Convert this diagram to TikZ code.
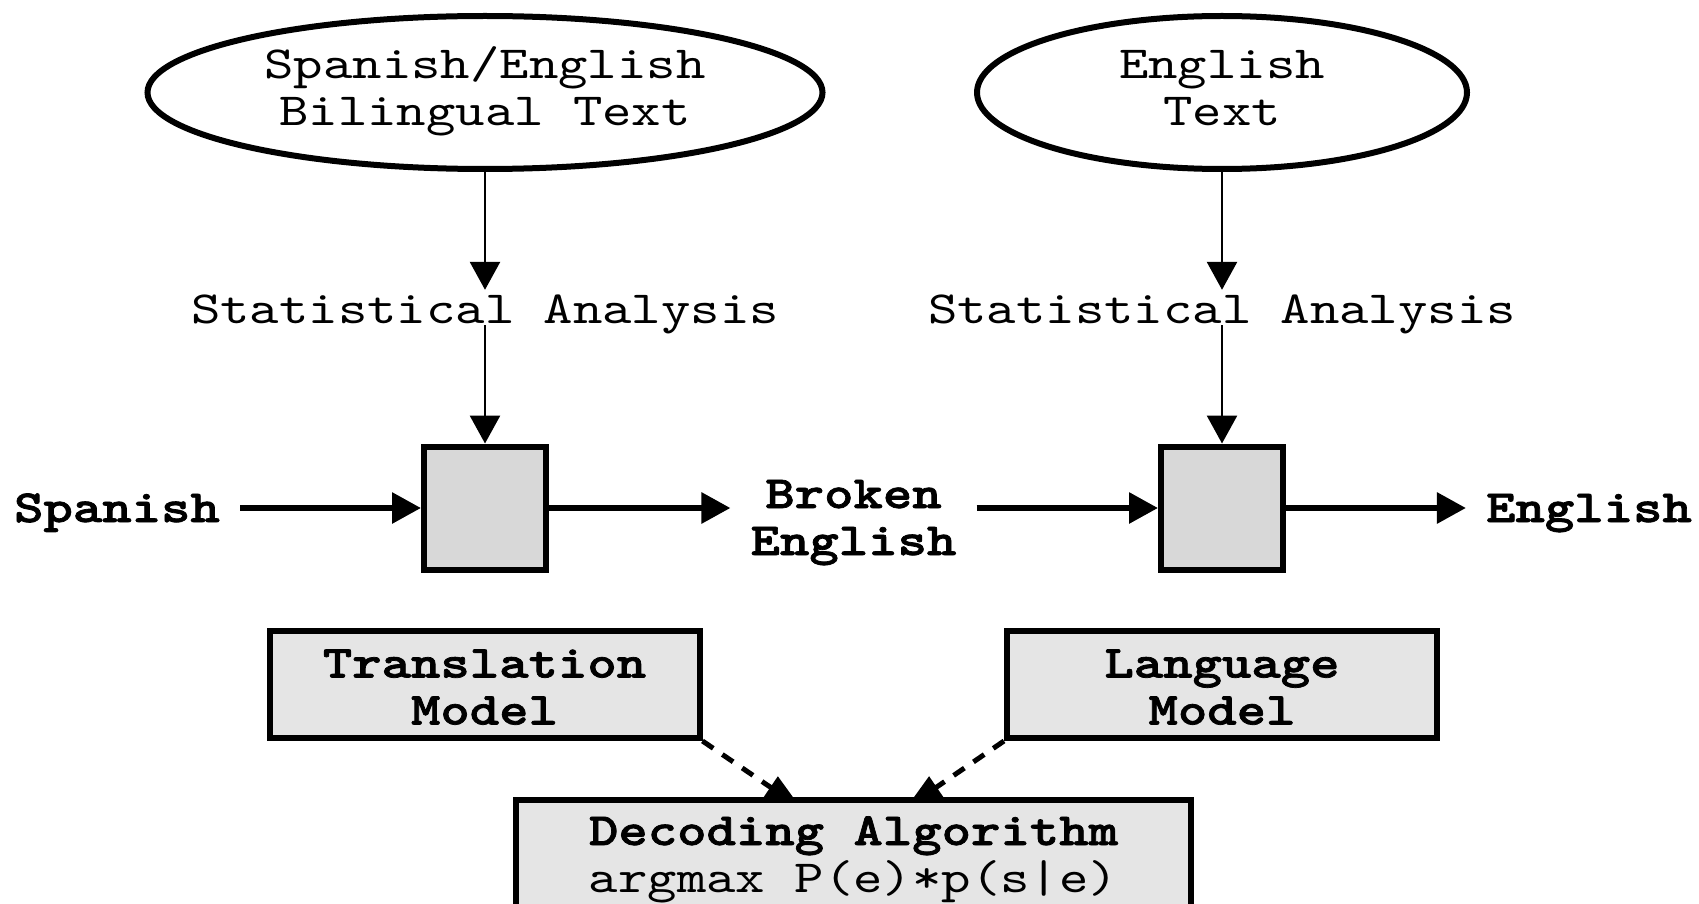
\documentclass[tikz,border=0pt]{standalone}
\usepackage{fontspec}
\setmonofont{lmmono10-regular.otf}[BoldFont=lmmonolt10-bold.otf, BoldFeatures={FakeBold=1.6}, FakeStretch=1.217]
\usetikzlibrary{arrows.meta,shapes.geometric}
\definecolor{sqgray}{HTML}{D8D8D8}
\definecolor{mgray}{HTML}{E5E5E5}
\newcommand{\bigtt}{\ttfamily\fontsize{46pt}{47pt}\selectfont}
\newcommand{\twolines}[2]{\begin{tabular}[b]{@{}c@{}}#1\\#2\end{tabular}}
\begin{document}
\begin{tikzpicture}[x=1pt,y=-1pt,
  ell/.style={ellipse, draw, line width=6pt, inner sep=0pt, minimum height=153pt,
    font=\bigtt, text height=80pt, text depth=14pt},
  sq/.style={rectangle, draw, line width=6pt, fill=sqgray, minimum width=122pt, minimum height=123pt},
  modelbox/.style={rectangle, draw, line width=6pt, fill=mgray, inner sep=0pt,
    minimum width=430pt, minimum height=107pt, font=\bigtt\bfseries, text height=88pt, text depth=8pt},
  stat/.style={anchor=base, inner sep=0pt, font=\bigtt, text height=33pt, text depth=2pt},
  lbl/.style={anchor=base, inner xsep=20pt, inner ysep=0pt, font=\bigtt\bfseries, text height=34pt, text depth=6pt},
  arr/.style={line width=6pt, -{Triangle[length=29pt,width=30pt]}},
  varr/.style={line width=2.8pt, -{Triangle[length=28pt,width=30pt]}},
  darr/.style={line width=5pt, dash pattern=on 13pt off 11pt, -{Triangle[length=37pt,width=25pt]}}]
\useasboundingbox (0,0) rectangle (1699,904);
\clip (0,0) rectangle (1699,904);

% top sources
\node[ell, minimum width=675pt] (e1) at (485,92.5) {\twolines{Spanish/English}{Bilingual Text}};
\node[ell, minimum width=490pt] (e2) at (1222,92.5) {\twolines{English}{Text}};

% statistical analysis labels
\node[stat] (st1) at (485,323) {Statistical Analysis};
\node[stat] (st2) at (1222,323) {Statistical Analysis};

% processing squares
\node[sq] (b1) at (485,508) {};
\node[sq] (b2) at (1222,508) {};

% labels of the main chain
\node[lbl] (sp) at (117,522) {Spanish};
\node[anchor=base, inner xsep=20pt, inner ysep=0pt, font=\bigtt\bfseries] (be) at (853.5,555) {\twolines{Broken}{English}};
\node[lbl] (en) at (1589,522) {English};

% model boxes
\node[modelbox] (tm) at (484.5,684.5) {\twolines{Translation}{Model}};
\node[modelbox] (lm) at (1222,684.5) {\twolines{Language}{Model}};

% vertical connectors
\draw[varr] (e1) -- (st1);
\draw[varr] (st1) -- (b1);
\draw[varr] (e2) -- (st2);
\draw[varr] (st2) -- (b2);

% horizontal chain
\draw[arr] (sp) -- (b1);
\draw[arr] (b1) -- (b1 -| be.west);
\draw[arr] (be.east |- b2) -- (b2);
\draw[arr] (b2) -- (en);

% dashed connectors into the decoder
\coordinate (tipL) at (801,808);
\coordinate (tipR) at (906,808);
\draw[darr] (tm.south east) -- (tipL);
\draw[darr] (lm.south west) -- (tipR);

% decoder
\node[rectangle, draw, line width=6pt, fill=mgray, inner sep=0pt, minimum width=675pt, minimum height=170pt,
  font=\bigtt, text height=62pt, text depth=48pt] (dec) at (853.5,885)
  {\twolines{\bfseries Decoding Algorithm}{argmax P(e)*p(s|e)}};
\end{tikzpicture}
\end{document}
